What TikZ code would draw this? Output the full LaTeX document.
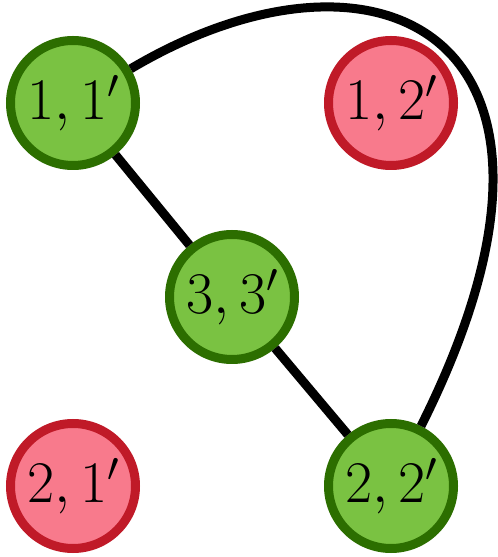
\RequirePackage{fix-cm}
\documentclass[tikz,border=0pt]{standalone}
\usepackage{tikz}

\definecolor{matchfill}{RGB}{122,194,66}
\definecolor{matchline}{RGB}{44,110,0}
\definecolor{missfill}{RGB}{248,122,140}
\definecolor{missline}{RGB}{192,26,40}

\begin{document}
\begin{tikzpicture}[x=1pt, y=1pt,
  pair/.style={circle, line width=9pt, minimum size=125pt, inner sep=0pt,
    font=\fontsize{59}{70}\selectfont},
  kept/.style={pair, draw=matchline, fill=matchfill},
  dropped/.style={pair, draw=missline, fill=missfill},
  edge/.style={black, line width=9pt}]
\useasboundingbox (0,0) rectangle (498,557);
\node[kept] (n11) at (73,454) {$1,1'$};
\node[dropped] (n12) at (391,454) {$1,2'$};
\node[kept] (n33) at (232,260) {$3,3'$};
\node[dropped] (n21) at (73,71) {$2,1'$};
\node[kept] (n22) at (391,71) {$2,2'$};
\draw[edge] (n11) -- (n33);
\draw[edge] (n33) -- (n22);
\draw[edge] (n11) .. controls (380,636) and (616,520) .. (n22);
\end{tikzpicture}
\end{document}
